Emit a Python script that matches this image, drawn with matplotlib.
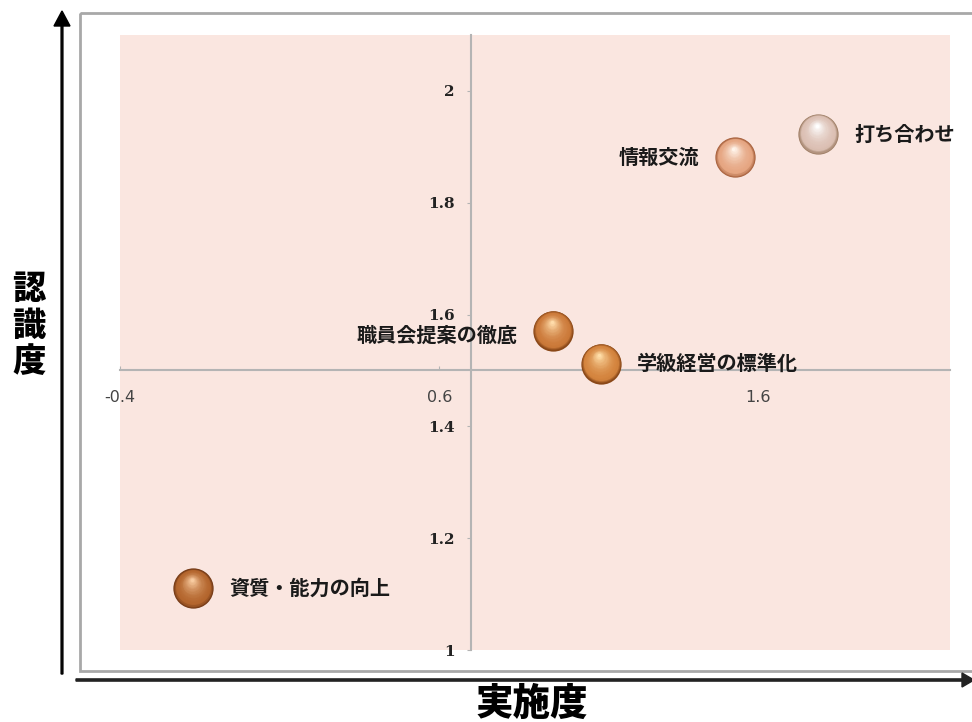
import numpy as np
import matplotlib
matplotlib.use("Agg")
import matplotlib.pyplot as plt
from matplotlib.transforms import offset_copy
from matplotlib.patches import Rectangle, FancyArrow
import matplotlib.colors as mcolors

plt.rcParams['font.family'] = ['Noto Sans CJK JP', 'DejaVu Sans']

# ---- data ----
labels = ['打ち合わせ', '情報交流', '職員会提案の徹底', '学級経営の標準化', '資質・能力の向上']
jisshi = [1.788, 1.527, 0.957, 1.106, -0.170]   # 実施度 (x)
ninshiki = [1.923, 1.881, 1.571, 1.512, 1.110]  # 認識度 (y)
xticks = [-0.4, 0.6, 1.6]
xticklabels = ['-0.4', '0.6', '1.6']
yticks = [1.0, 1.2, 1.4, 1.6, 1.8, 2.0]
yticklabels = ['1', '1.2', '1.4', '1.6', '1.8', '2']
x_title = '実施度'
y_title = '認識度'

# ---- styles ----
label_side = ['right', 'left', 'left', 'right', 'right']
label_dy = [0, 0, -3.5, 0, 0]
sphere_cols = [  # (rim/dark, body, highlight)
    ('#a08068', '#dcc0b4', '#ffffff'),
    ('#a8623e', '#e6a682', '#fff4ea'),
    ('#8a4818', '#cc7a3a', '#ffdcaa'),
    ('#8a4818', '#d4843e', '#ffdea8'),
    ('#743a16', '#b4662e', '#f8cba0'),
]

W, H = 972, 722
fig = plt.figure(figsize=(W / 100, H / 100), dpi=100)

# background overlay in pixel coordinates
bg = fig.add_axes([0, 0, 1, 1], zorder=0)
bg.set_xlim(0, W)
bg.set_ylim(H, 0)
bg.axis('off')
bg.add_patch(Rectangle((80, 13), 900, 658, fill=False, edgecolor='#a8a8a8', lw=2.0))
bg.add_patch(FancyArrow(62, 674, 0, -648, width=1.8, head_width=16, head_length=15,
                        length_includes_head=False, color='black'))
bg.add_patch(FancyArrow(76, 680, 886, 0, width=2.2, head_width=14, head_length=12,
                        length_includes_head=False, color='#222222'))

# main axes
left, right, top, bottom = 120, 950, 35, 650
ax = fig.add_axes([left / W, 1 - bottom / H, (right - left) / W, (bottom - top) / H], zorder=1)
ax.set_facecolor('#fae6e0')
ax.set_xlim(-0.4, 2.2)
ax.set_ylim(1.0, 2.1)

for s in ['top', 'right']:
    ax.spines[s].set_visible(False)
ax.spines['left'].set_position(('data', 0.7))
ax.spines['bottom'].set_position(('data', 1.5))
for s in ['left', 'bottom']:
    ax.spines[s].set_color('#b4b4b4')
    ax.spines[s].set_linewidth(1.5)

ax.set_xticks(xticks)
ax.set_xticklabels(xticklabels, family='DejaVu Sans', fontsize=11.5, color='#444444')
ax.set_yticks(yticks)
ax.set_yticklabels(yticklabels, family='DejaVu Serif', fontweight='bold', fontsize=11, color='#222222')
ax.tick_params(axis='x', direction='in', length=3, color='#b4b4b4', pad=14)
ax.tick_params(axis='y', direction='out', length=3, color='#b4b4b4', pad=9)


def sphere(x, y, d, cols, z):
    dark, body, light = [np.array(mcolors.to_rgb(c)) for c in cols]
    N = 22
    for i in range(N):
        t = i / (N - 1)
        dia = d * (1 - 0.92 * t)
        off = d / 2 * 0.42 * t
        if t < 0.15:
            c = dark + (body - dark) * (t / 0.15)
        else:
            c = body + (light - body) * ((t - 0.15) / 0.85) ** 1.8
        tr = offset_copy(ax.transData, fig=fig, x=-off * 0.2, y=off, units='points')
        ax.scatter([x], [y], s=dia ** 2, color=c, transform=tr, zorder=z + i * 0.001,
                   linewidths=0, clip_on=False)


for i, (lab, xv, yv) in enumerate(zip(labels, jisshi, ninshiki)):
    sphere(xv, yv, 29, sphere_cols[i], 3 + i * 0.1)
    if label_side[i] == 'right':
        ax.annotate(lab, (xv, yv), xytext=(26, label_dy[i]), textcoords='offset points',
                    ha='left', va='center', fontsize=14.5, fontweight='bold', color='#1a1a1a', zorder=5)
    else:
        ax.annotate(lab, (xv, yv), xytext=(-26, label_dy[i]), textcoords='offset points',
                    ha='right', va='center', fontsize=14.5, fontweight='bold', color='#1a1a1a', zorder=5)

fig.text(29 / W, 1 - 325 / H, '\n'.join(y_title), ha='center', va='center',
         fontsize=24, fontweight='heavy', linespacing=1.05)
fig.text(532 / W, 1 - 704 / H, x_title, ha='center', va='center',
         fontsize=27, fontweight='heavy')

fig.savefig('out.png', dpi=100)
